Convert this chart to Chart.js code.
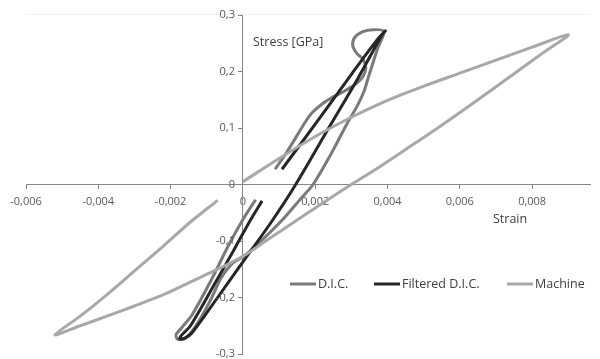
<!DOCTYPE html>
<html>
<head>
<meta charset="utf-8">
<script src="https://cdn.jsdelivr.net/npm/chart.js"></script>
<style>
  html, body { margin: 0; padding: 0; background: #fff; }
  canvas { display: block; }
</style>
</head>
<body>
<canvas id="chart" width="600" height="359"></canvas>
<script>
// strain / stress points, [strain, stress in GPa]
const dicPoints = [
  [0.00035, -0.027], [0.0, -0.062], [-0.0004, -0.108], [-0.0009, -0.172], [-0.0014, -0.23],
  [-0.0017, -0.254], [-0.00185, -0.266], [-0.0018, -0.274], [-0.0016, -0.272],
  [-0.0013, -0.25], [-0.0009, -0.205], [-0.0006, -0.165], [-0.0003, -0.14], [0, -0.128],
  [0.0005, -0.1], [0.0011, -0.062], [0.0016, -0.025], [0.00194, 0], [0.00242, 0.052],
  [0.00289, 0.109], [0.00317, 0.14], [0.00335, 0.165], [0.00347, 0.19], [0.00358, 0.212],
  [0.00372, 0.24], [0.0039, 0.271],
  [0.0036, 0.274], [0.0033, 0.27], [0.00308, 0.259], [0.00304, 0.245], [0.00315, 0.232],
  [0.00332, 0.222], [0.0034, 0.207], [0.00332, 0.191], [0.0031, 0.177], [0.0028, 0.165],
  [0.0025, 0.155], [0.0022, 0.143], [0.0019, 0.126], [0.0017, 0.108], [0.0015, 0.087],
  [0.0012, 0.056], [0.00089, 0.027]
];

const filteredPoints = [
  [0.00053, -0.029], [0.00019, -0.065], [-0.0002, -0.11], [-0.0008, -0.178], [-0.00145, -0.25],
  [-0.0017, -0.267], [-0.00175, -0.273], [-0.0016, -0.272], [-0.0014, -0.262],
  [-0.0007, -0.2], [0, -0.137], [0.0008, -0.065], [0.00146, 0], [0.0024, 0.103],
  [0.0032, 0.19], [0.00385, 0.265], [0.00394, 0.272], [0.0037, 0.255], [0.003, 0.195],
  [0.00206, 0.112], [0.00108, 0.027]
];

const machinePoints = [
  [0, 0.005], [0.001, 0.046], [0.002, 0.085], [0.003, 0.119], [0.004, 0.149], [0.005, 0.174],
  [0.006, 0.197], [0.007, 0.22], [0.008, 0.243], [0.009, 0.265],
  [0.0083, 0.233], [0.0075, 0.196], [0.0065, 0.15], [0.0055, 0.105], [0.0045, 0.062],
  [0.0037, 0.028], [0.003, 0.0], [0.0022, -0.033], [0.0015, -0.063], [0.0007, -0.097],
  [0, -0.127], [-0.0008, -0.153], [-0.0015, -0.174], [-0.0022, -0.195], [-0.003, -0.215],
  [-0.0038, -0.234], [-0.0045, -0.25], [-0.0052, -0.266],
  [-0.0045, -0.233], [-0.0038, -0.197], [-0.003, -0.153], [-0.0022, -0.109],
  [-0.0015, -0.069], [-0.0007, -0.028]
];

const seriesNames = ['D.I.C.', 'Filtered D.I.C.', 'Machine'];
const seriesColors = ['#7a7a7a', '#262626', '#a8a8a8'];

const xTitle = 'Strain';
const yTitle = 'Stress [GPa]';

const toXY = pts => pts.map(p => ({ x: p[0], y: p[1] }));

function fmt(v, digits) {
  if (Math.abs(v) < 1e-9) return '0';
  return v.toFixed(digits).replace('.', ',');
}

const axisColor = '#868686';
const labelColor = '#595959';
const tickFont = { family: 'Open Sans', size: 11 };

// y tick labels, titles and legend drawn by hand, like the excel original
const overlay = {
  id: 'overlay',
  afterDraw(chart) {
    const ctx = chart.ctx;
    const xs = chart.scales.x, ys = chart.scales.y;
    ctx.save();
    ctx.strokeStyle = '#f0f0f0';
    ctx.lineWidth = 1;
    ctx.beginPath();
    ctx.moveTo(chart.chartArea.left, 14.5);
    ctx.lineTo(chart.chartArea.right, 14.5);
    ctx.stroke();

    const axisX = xs.getPixelForValue(0);
    ctx.fillStyle = labelColor;
    ctx.font = "11px 'Open Sans'";
    ctx.textAlign = 'right';
    ctx.textBaseline = 'middle';
    ys.ticks.forEach(t => {
      ctx.fillText(fmt(t.value, 1), axisX - 8, ys.getPixelForValue(t.value));
    });

    ctx.fillStyle = '#404040';
    ctx.font = "12.5px 'Open Sans'";
    ctx.textAlign = 'left';
    ctx.fillText(yTitle, 253, 42);
    ctx.fillText(xTitle, 493, 219);

    const legendX = [290, 374, 507];
    seriesNames.forEach((name, i) => {
      ctx.strokeStyle = seriesColors[i];
      ctx.lineWidth = 3;
      ctx.beginPath();
      ctx.moveTo(legendX[i], 284);
      ctx.lineTo(legendX[i] + 26, 284);
      ctx.stroke();
      ctx.fillStyle = '#404040';
      ctx.fillText(name, legendX[i] + 28, 284);
    });
    ctx.restore();
  }
};

const datasets = [dicPoints, filteredPoints, machinePoints].map((pts, i) => ({
  label: seriesNames[i],
  data: toXY(pts),
  showLine: true,
  borderColor: seriesColors[i],
  backgroundColor: seriesColors[i],
  borderWidth: 3,
  pointRadius: 0,
  tension: 0.3,
  order: 3 - i
}));

new Chart(document.getElementById('chart'), {
  type: 'scatter',
  data: { datasets },
  options: {
    responsive: false,
    animation: false,
    devicePixelRatio: 1,
    layout: { padding: { left: 26, right: 10, top: 15, bottom: 5 } },
    plugins: { legend: { display: false }, tooltip: { enabled: false } },
    scales: {
      x: {
        type: 'linear',
        position: { y: 0 },
        min: -0.006,
        max: 0.0096,
        grid: { drawOnChartArea: false, drawTicks: true, tickLength: 4, color: axisColor },
        border: { color: axisColor },
        ticks: {
          stepSize: 0.002,
          includeBounds: false,
          color: labelColor,
          font: tickFont,
          padding: 7,
          maxRotation: 0,
          callback: v => fmt(v, 3)
        }
      },
      y: {
        type: 'linear',
        position: { x: 0 },
        min: -0.3,
        max: 0.3,
        grid: { drawOnChartArea: false, drawTicks: true, tickLength: 4, color: axisColor },
        border: { color: axisColor },
        ticks: {
          stepSize: 0.1,
          display: false
        }
      }
    }
  },
  plugins: [overlay]
});
</script>
</body>
</html>
